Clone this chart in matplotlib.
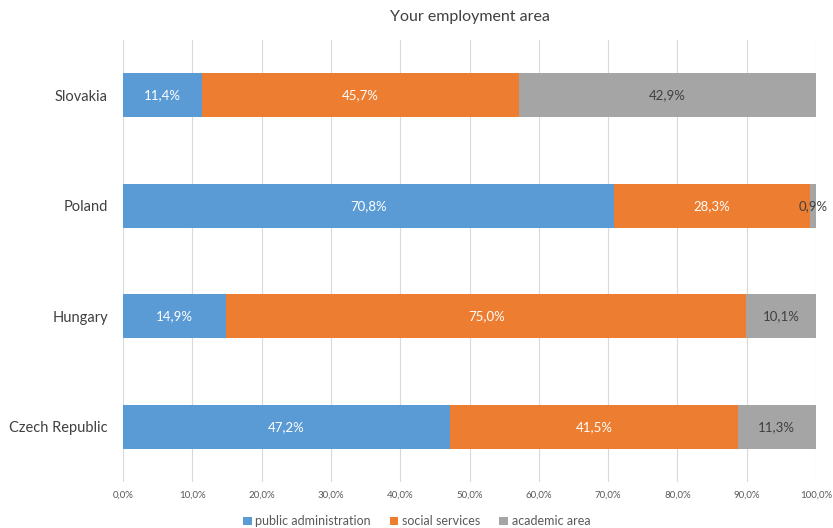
import matplotlib.pyplot as plt
import numpy as np
from matplotlib.ticker import FuncFormatter

# -------------------------------
# DATA
# -------------------------------
countries = ["Czech Republic", "Hungary", "Poland", "Slovakia"]
public_admin = [47.2, 14.9, 70.8, 11.4]
social_services = [41.5, 75.0, 28.3, 45.7]
academic_area = [11.3, 10.1, 0.9, 42.9]

series_names = ["public administration", "social services", "academic area"]
series_colors = ["#5B9BD5", "#ED7D31", "#A5A5A5"]
label_colors = ["white", "white", "#404040"]

plt.rcParams['font.family'] = ['Lato', 'DejaVu Sans']

fig = plt.figure(figsize=(8.33, 5.28), dpi=100)
ax = fig.add_axes([0.1477, 0.0871, 0.8319, 0.8371])

y = np.arange(len(countries))
left = np.zeros(len(countries))
for vals, name, col, lcol in zip([public_admin, social_services, academic_area],
                                 series_names, series_colors, label_colors):
    vals = np.array(vals)
    bars = ax.barh(y, vals, left=left, height=0.4, color=col, label=name, zorder=3)
    for b, v in zip(bars, vals):
        ax.text(b.get_x() + b.get_width() / 2, b.get_y() + b.get_height() / 2,
                f"{v:.1f}%".replace(".", ","), ha="center", va="center",
                color=lcol, fontsize=9.5, zorder=4)
    left += vals

ax.set_xlim(0, 100)
ax.set_ylim(-0.5, len(countries) - 0.5)
ax.set_xticks(np.arange(0, 101, 10))
ax.xaxis.set_major_formatter(FuncFormatter(lambda v, p: f"{v:.1f}%".replace(".", ",")))
ax.set_yticks(y)
ax.set_yticklabels(countries)
ax.tick_params(axis="x", labelsize=7, colors="#595959", length=0, pad=6)
ax.tick_params(axis="y", labelsize=10.5, colors="#404040", length=0, pad=11)
ax.grid(axis="x", color="#D9D9D9", linewidth=0.8, zorder=0)
for s in ax.spines.values():
    s.set_visible(False)

ax.set_title("Your employment area", fontsize=11.5, color="#404040", pad=14)

fig.legend(loc="lower center", bbox_to_anchor=(0.5, -0.02), ncol=3, frameon=False,
           fontsize=9, handlelength=0.7, handleheight=0.7, handletextpad=0.3,
           columnspacing=1.5, labelcolor="#595959")

plt.savefig("out.png", dpi=100)
